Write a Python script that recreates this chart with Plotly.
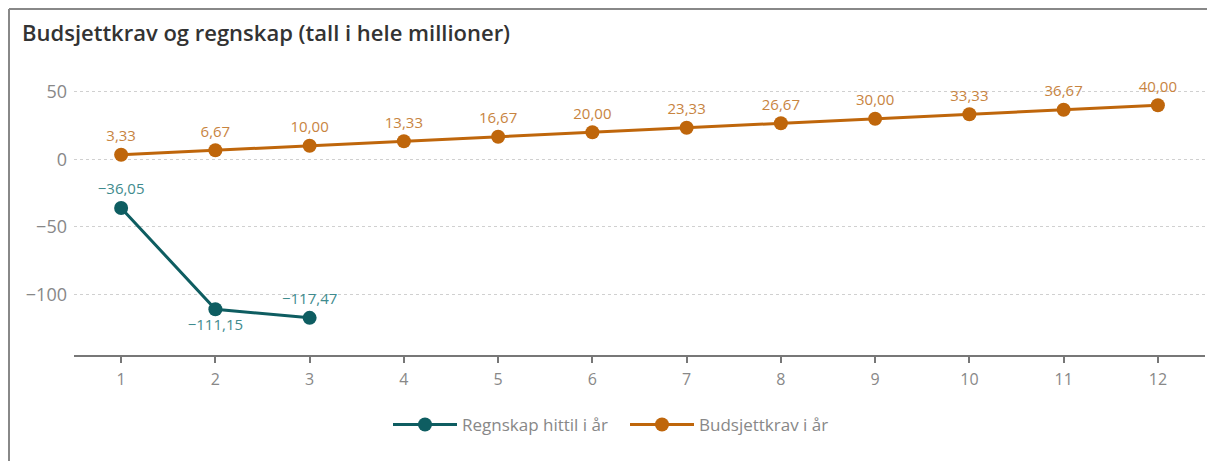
import plotly.graph_objects as go

months = list(range(1, 13))
regnskap = [-36.05, -111.15, -117.47]
budsjett = [3.33, 6.67, 10.00, 13.33, 16.67, 20.00, 23.33, 26.67, 30.00, 33.33, 36.67, 40.00]
regnskap_name = "Regnskap hittil i år"
budsjett_name = "Budsjettkrav i år"
title_text = "Budsjettkrav og regnskap (tall i hele millioner)"

def fmt(v):
    s = f"{abs(v):.2f}".replace(".", ",")
    return ("\u2212" + s) if v < 0 else s

teal = "#0e5d61"
teal_txt = "#3f8b8e"
orange = "#bf660b"
orange_txt = "#c8843f"

# page body has an 8px margin; work in screen coords and shift
OFF = 8
W, H = 1215 - OFF, 461 - OFF
L, R, T, B = 74 - OFF, 10, 79 - OFF, 106
pw, ph = W - L - R, H - T - B

def px_x(s):
    return (s - OFF - L) / pw

def px_y(s):
    return (H - B - (s - OFF)) / ph

fig = go.Figure()
fig.add_trace(go.Scatter(
    x=months[:len(regnskap)], y=regnskap, name=regnskap_name,
    mode="lines+markers+text",
    line=dict(color=teal, width=3),
    marker=dict(color=teal, size=14),
    text=[fmt(v) for v in regnskap],
    textposition=["top center", "bottom center", "top center"],
    textfont=dict(color=teal_txt, size=15, family="Open Sans"),
    cliponaxis=False,
))
fig.add_trace(go.Scatter(
    x=months, y=budsjett, name=budsjett_name,
    mode="lines+markers+text",
    line=dict(color=orange, width=3),
    marker=dict(color=orange, size=14),
    text=[fmt(v) for v in budsjett],
    textposition="top center",
    textfont=dict(color=orange_txt, size=15, family="Open Sans"),
    cliponaxis=False,
))

fig.update_layout(
    width=W, height=H,
    margin=dict(l=L, r=R, t=T, b=B, autoexpand=False),
    paper_bgcolor="white", plot_bgcolor="white",
    font=dict(family="Open Sans", color="#888888", size=16),
    title=dict(text=title_text, x=(22 - OFF) / W, xanchor="left", y=1 - (33 - OFF) / H, yanchor="middle",
               font=dict(size=22, color="#333333", family="Open Sans", weight=600)),
    showlegend=True,
    legend=dict(orientation="h", x=px_x(388), xanchor="left", y=px_y(425), yanchor="middle",
                font=dict(size=17, color="#888888"), itemwidth=64,
                entrywidth=158, entrywidthmode="pixels"),
    xaxis=dict(range=[0.5, 12.5], tickmode="array", tickvals=months, ticktext=[str(m) for m in months],
               showgrid=False, zeroline=False, showline=True, linecolor="#777777", linewidth=2,
               ticks="outside", ticklen=6, tickwidth=2, tickcolor="#777777",
               ticklabelstandoff=3,
               tickfont=dict(size=16, color="#888888")),
    yaxis=dict(range=[-145, 59.5], tickvals=[-100, -50, 0, 50], showgrid=True,
               gridcolor="#d0d0d0", griddash="dot", gridwidth=1, zeroline=False,
               showline=False, ticks="", ticklabelstandoff=6,
               tickfont=dict(size=18, color="#888888")),
    shapes=[
        dict(type="line", xref="paper", yref="paper", x0=px_x(9), x1=px_x(9), y0=px_y(9), y1=px_y(470),
             line=dict(color="#888888", width=2)),
        dict(type="line", xref="paper", yref="paper", x0=px_x(9), x1=px_x(1208), y0=px_y(9), y1=px_y(9),
             line=dict(color="#888888", width=2)),
    ],
)

fig.write_html("out.html")
